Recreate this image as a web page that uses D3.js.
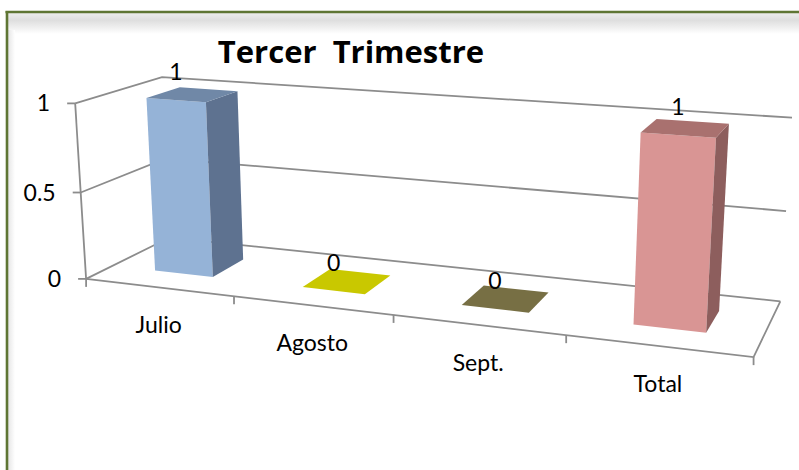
<!DOCTYPE html>
<html><head><meta charset="utf-8">
<script src="https://cdn.jsdelivr.net/npm/d3@7"></script>
<style>
html,body{margin:0;padding:0;background:#fff;}
text{font-family:Lato,"Open Sans",sans-serif;fill:#000;}
</style></head>
<body>
<svg id="chart" width="799" height="470"></svg>
<script>
// ---- data ----
const categories = ["Julio", "Agosto", "Sept.", "Total"];
const values = [1, 0, 0, 1];
const valueTicks = [0, 0.5, 1];
const title = "Tercer  Trimestre";

// ---- styles ----
const frontColors = ["#95b3d7", "#c9c800", "#776f44", "#d99594"];
const sideColors  = ["#5e7290", "#a3a200", "#5e5835", "#8d5e5d"];
const topColors   = ["#7088a7", "#c9c800", "#776f44", "#a9716f"];
const gridColor = "#8c8c8c";

const svg = d3.select("#chart");

// ---- 3D box camera: box X in [0,4] (category), Y in [0,1] (value), Z in [0,1] (depth, 0 = front)
// anchors of the plot box on screen
const anchors = [
  [0,0,0, 86,278.3], [4,0,0, 753.3,356.7], [0,1,0, 75,103.3], [0,1,1, 162,77.3],
  [4,1,1, 791.7,117.7], [4,0,1, 780,301.5], [1,0,0, 234,296.2], [2,0,0, 393.3,315.5],
  [3,0,0, 566.7,335.5], [0,0.5,0, 81,192.7], [4,0.5,1, 786.7,210.7]
];
function solveCamera(pts){
  const A=[], b=[];
  pts.forEach(([X,Y,Z,x,y])=>{
    A.push([X,Y,Z,1,0,0,0,0,-x*X,-x*Y,-x*Z]); b.push(x);
    A.push([0,0,0,0,X,Y,Z,1,-y*X,-y*Y,-y*Z]); b.push(y);
  });
  const n=11, M=[];
  for(let i=0;i<n;i++){M.push(new Array(n+1).fill(0));}
  for(let r=0;r<A.length;r++) for(let i=0;i<n;i++){
    for(let j=0;j<n;j++) M[i][j]+=A[r][i]*A[r][j];
    M[i][n]+=A[r][i]*b[r];
  }
  for(let c=0;c<n;c++){
    let piv=c; for(let r=c+1;r<n;r++) if(Math.abs(M[r][c])>Math.abs(M[piv][c])) piv=r;
    [M[c],M[piv]]=[M[piv],M[c]];
    for(let r=0;r<n;r++){ if(r===c) continue; const f=M[r][c]/M[c][c];
      for(let k=c;k<=n;k++) M[r][k]-=f*M[c][k]; }
  }
  return M.map((row,i)=>row[n]/row[i]);
}
const P = solveCamera(anchors);
function proj(X,Y,Z){
  const w=P[8]*X+P[9]*Y+P[10]*Z+1;
  return [(P[0]*X+P[1]*Y+P[2]*Z+P[3])/w,(P[4]*X+P[5]*Y+P[6]*Z+P[7])/w];
}

// ---- scales ----
const xBand = d3.scaleBand().domain(categories).range([0,4]).paddingInner(0.6).paddingOuter(0.3);
const yVal = d3.scaleLinear().domain([0,1]).range([0,1]);
const zDepth = d3.scaleLinear().domain([0,1]).range([0.3,0.7]); // bar depth span
const line = d3.line();

// ---- frame ----
const defs = svg.append("defs");
const g1 = defs.append("linearGradient").attr("id","topShade").attr("x1",0).attr("y1",0).attr("x2",0).attr("y2",1);
g1.append("stop").attr("offset",0).attr("stop-color","#ededed");
g1.append("stop").attr("offset",0.35).attr("stop-color","#dedede");
g1.append("stop").attr("offset",1).attr("stop-color","#ffffff");
const g2 = defs.append("linearGradient").attr("id","leftShade").attr("x1",0).attr("y1",0).attr("x2",1).attr("y2",0);
g2.append("stop").attr("offset",0).attr("stop-color","#e6e6e6");
g2.append("stop").attr("offset",1).attr("stop-color","#ffffff");
svg.append("rect").attr("x",8).attr("y",13).attr("width",791).attr("height",21).attr("fill","url(#topShade)");
svg.append("rect").attr("x",8).attr("y",30).attr("width",7).attr("height",440).attr("fill","url(#leftShade)");
svg.append("line").attr("x1",5.5).attr("y1",12).attr("x2",799).attr("y2",12).attr("stroke","#5f7634").attr("stroke-width",2.6);
svg.append("line").attr("x1",7).attr("y1",11).attr("x2",7).attr("y2",470).attr("stroke","#5f7634").attr("stroke-width",2.6);

// ---- title ----
svg.append("text").attr("x",351).attr("y",63).attr("text-anchor","middle")
  .style("white-space","pre").style("font-family","'Open Sans',Lato,sans-serif")
  .attr("font-weight","bold").attr("font-size",31).text(title);

// ---- walls / gridlines ----
const grid = svg.append("g").attr("fill","none").attr("stroke",gridColor).attr("stroke-width",1.8);
valueTicks.forEach(t=>{
  const y=yVal(t);
  grid.append("path").attr("d",line([proj(0,y,0),proj(0,y,1),proj(4,y,1)]));
});
// front value axis
grid.append("path").attr("d",line([proj(0,0,0),proj(0,1,0)]));
// floor front and right edges
grid.append("path").attr("d",line([proj(0,0,0),proj(4,0,0),proj(4,0,1)]));
// value ticks and labels
valueTicks.forEach(t=>{
  const p=proj(0,yVal(t),0);
  grid.append("path").attr("d",line([[p[0]-8,p[1]],p]));
  svg.append("text").attr("x",p[0]-25).attr("y",p[1]+8).attr("text-anchor","end")
    .attr("font-size",23).text(d3.format("")(t));
});
// category ticks
d3.range(0,5).forEach(i=>{
  const p=proj(i,0,0);
  grid.append("path").attr("d",line([p,[p[0],p[1]+8]]));
});
categories.forEach(c=>{
  const p=proj(xBand(c)+xBand.bandwidth()/2,0,0);
  svg.append("text").attr("x",p[0]).attr("y",p[1]+46).attr("text-anchor","middle")
    .attr("font-size",23).text(c);
});

// ---- bars ----
const bars = svg.append("g");
categories.forEach((c,i)=>{
  const x0=xBand(c), x1=x0+xBand.bandwidth(), z0=zDepth(0), z1=zDepth(1), v=yVal(values[i]);
  const poly = pts => line(pts.map(q=>proj(...q)))+"Z";
  if(v>0){
    bars.append("path").attr("d",poly([[x0,0,z0],[x1,0,z0],[x1,v,z0],[x0,v,z0]])).attr("fill",frontColors[i]);
    bars.append("path").attr("d",poly([[x1,0,z0],[x1,0,z1],[x1,v,z1],[x1,v,z0]])).attr("fill",sideColors[i]);
  }
  bars.append("path").attr("d",poly([[x0,v,z0],[x1,v,z0],[x1,v,z1],[x0,v,z1]])).attr("fill",topColors[i]);
  const lp=proj((x0+x1)/2,v,z0);
  svg.append("text").attr("x",lp[0]).attr("y",lp[1]-20).attr("text-anchor","middle")
    .attr("font-size",23).text(values[i]);
});
</script>
</body></html>
